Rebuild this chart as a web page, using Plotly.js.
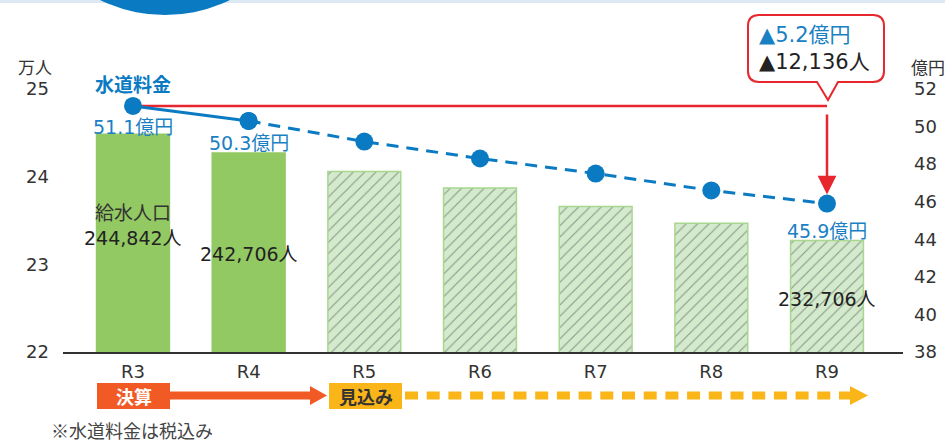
<!DOCTYPE html>
<html>
<head>
<meta charset="utf-8">
<script src="https://cdn.plot.ly/plotly-3.0.1.min.js"></script>
<style>html,body{margin:0;padding:0;background:#fff;}#chart{width:945px;height:442px;}</style>
</head>
<body>
<div id="chart"></div>
<script>
// ---- data ----
const categories = ['R3', 'R4', 'R5', 'R6', 'R7', 'R8', 'R9'];
const population = [244842, 242706, 240600, 238700, 236600, 234700, 232706]; // 給水人口 (人)
const revenue = [51.1, 50.3, 49.2, 48.3, 47.5, 46.6, 45.9];                  // 水道料金 (億円)
const actualCount = 2; // R3, R4 = 決算, rest = 見込み
const leftTicks = [22, 23, 24, 25];
const rightTicks = [38, 40, 42, 44, 46, 48, 50, 52];
const labelIdx = [0, 1, 6];

// ---- layout helpers ----
const L = 63, R = 903, T = 89, B = 352;
const px = x => (x - L) / (R - L);
const py = y => (B - y) / (B - T);
const FONT = 'DejaVu Sans, "Noto Sans CJK JP", sans-serif';
const CJK = '"Noto Sans CJK JP", DejaVu Sans, sans-serif';
const BLUE = '#0a7bc2', RED = '#e8262d', TXT = '#333333';

const popMan = population.map(v => v / 10000);
const isActual = categories.map((c, i) => i < actualCount);

const bars = {
  type: 'bar', x: categories, y: popMan, yaxis: 'y', xaxis: 'x',
  marker: {
    color: isActual.map(a => a ? '#93c963' : '#d3eacc'),
    line: {color: isActual.map(a => a ? '#93c963' : '#a8d88f'), width: 1.5},
    pattern: {shape: isActual.map(a => a ? '' : '/'), fillmode: 'overlay', fgcolor: '#b3dca0', size: 8, solidity: 0.14}
  },
  hoverinfo: 'skip', showlegend: false
};
const lineSolid = {
  type: 'scatter', mode: 'lines+markers', x: categories.slice(0, actualCount), y: revenue.slice(0, actualCount),
  yaxis: 'y2', line: {color: BLUE, width: 3}, marker: {color: BLUE, size: 18}, showlegend: false, hoverinfo: 'skip'
};
const lineDash = {
  type: 'scatter', mode: 'lines+markers', x: categories.slice(actualCount - 1), y: revenue.slice(actualCount - 1),
  yaxis: 'y2', line: {color: BLUE, width: 3, dash: '12px,8px'}, marker: {color: BLUE, size: 18}, showlegend: false, hoverinfo: 'skip'
};

function P(x, y) { return px(x).toFixed(5) + ',' + py(y).toFixed(5); }
function calloutPath(x0, y0, x1, y1, r, pl, tip, pr, tipY) {
  return 'M' + P(x0 + r, y0) + ' L' + P(x1 - r, y0) + ' Q' + P(x1, y0) + ' ' + P(x1, y0 + r) +
    ' L' + P(x1, y1 - r) + ' Q' + P(x1, y1) + ' ' + P(x1 - r, y1) +
    ' L' + P(pr, y1) + ' L' + P(tip, tipY) + ' L' + P(pl, y1) +
    ' L' + P(x0 + r, y1) + ' Q' + P(x0, y1) + ' ' + P(x0, y1 - r) +
    ' L' + P(x0, y0 + r) + ' Q' + P(x0, y0) + ' ' + P(x0 + r, y0) + ' Z';
}
function rectShape(x0, y0, x1, y1, color) {
  return {type: 'rect', xref: 'paper', yref: 'paper', x0: px(x0), x1: px(x1), y0: py(y1), y1: py(y0),
    fillcolor: color, line: {width: 0}, layer: 'above'};
}
function triShape(x0, y0, x1, ym, y1, color) {
  return {type: 'path', xref: 'paper', yref: 'paper', path: 'M' + P(x0, y0) + ' L' + P(x1, ym) + ' L' + P(x0, y1) + ' Z',
    fillcolor: color, line: {width: 0}, layer: 'above'};
}

const shapes = [
  rectShape(0, 0, 945, 3, '#dce8f4'),
  {type: 'circle', xref: 'paper', yref: 'paper', x0: px(17), x1: px(313), y0: py(15), y1: py(-281),
    fillcolor: BLUE, line: {width: 0}, layer: 'above'},
  {type: 'line', xref: 'x', yref: 'y2', x0: 0, x1: categories.length - 1, y0: revenue[0], y1: revenue[0],
    line: {color: RED, width: 2.5}, layer: 'below'},
  {type: 'path', xref: 'paper', yref: 'paper', path: calloutPath(748, 15, 884, 82, 11, 817, 828, 838, 100),
    fillcolor: '#ffffff', line: {color: RED, width: 2}, layer: 'above'},
  rectShape(97, 383, 170, 409, '#f15a24'),
  rectShape(170, 391.5, 312, 399.5, '#f15a24'),
  triShape(310, 386, 327, 395.5, 405, '#f15a24'),
  rectShape(329, 383, 402, 409, '#fab518'),
  {type: 'line', xref: 'paper', yref: 'paper', x0: px(405), x1: px(850), y0: py(395.5), y1: py(395.5),
    line: {color: '#fab518', width: 8, dash: '13px,8.7px'}, layer: 'above'},
  triShape(850, 386, 868, 395.5, 405, '#fab518')
];

function txt(x, y, text, size, color, opts) {
  return Object.assign({xref: 'paper', yref: 'paper', x: px(x), y: py(y), text: text, showarrow: false,
    xanchor: 'center', yanchor: 'middle', font: {family: FONT, size: size, color: color}}, opts || {});
}

const fmt = n => n.toLocaleString('en-US');
const annotations = [
  txt(35, 66, '万人', 17, TXT, {font: {family: CJK, size: 17, color: TXT}}),
  txt(928, 66, '億円', 17, TXT, {font: {family: CJK, size: 17, color: TXT}}),
  {xref: 'x', yref: 'paper', x: categories[0], y: py(84), text: '<b>水道料金</b>', showarrow: false,
    xanchor: 'center', yanchor: 'middle', font: {family: CJK, size: 19, color: BLUE}},
  {xref: 'x', yref: 'paper', x: categories[0], y: py(211), text: '給水人口', showarrow: false,
    xanchor: 'center', yanchor: 'middle', font: {family: CJK, size: 19, color: TXT}},
  // red arrow down to R9
  {xref: 'x', yref: 'y2', x: categories.length - 1, y: revenue[categories.length - 1],
    axref: 'x', ayref: 'y2', ax: categories.length - 1, ay: revenue[0], text: ' ', showarrow: true,
    arrowhead: 2, arrowsize: 1.5, arrowwidth: 2.5, arrowcolor: RED, standoff: 9},
  txt(757, 35, '▲' + (revenue[0] - revenue[revenue.length - 1]).toFixed(1) + '億円', 21, '#1a80c4', {xanchor: 'left'}),
  txt(757, 62, '▲' + fmt(population[0] - population[population.length - 1]) + '人', 21, '#222222', {xanchor: 'left'}),
  txt(133.5, 396, '<b>決算</b>', 18, '#ffffff', {font: {family: CJK, size: 18, color: '#ffffff'}}),
  txt(365.5, 396, '<b>見込み</b>', 18, TXT, {font: {family: CJK, size: 18, color: TXT}}),
  txt(49, 430, '※水道料金は税込み', 18, '#444444', {xanchor: 'left', font: {family: CJK, size: 18, color: '#444444'}})
];
const revLabelY = {0: 126.5, 1: 143, 6: 231};
const popLabelY = {0: 238, 1: 254, 6: 299};
labelIdx.forEach(i => {
  annotations.push({xref: 'x', yref: 'paper', x: categories[i], y: py(revLabelY[i]), text: revenue[i].toFixed(1) + '億円',
    showarrow: false, xanchor: 'center', yanchor: 'middle', font: {family: FONT, size: 19, color: '#1a80c4'}});
  annotations.push({xref: 'x', yref: 'paper', x: categories[i], y: py(popLabelY[i]), text: fmt(population[i]) + '人',
    showarrow: false, xanchor: 'center', yanchor: 'middle', font: {family: FONT, size: 19, color: '#222222'}});
});

const layout = {
  width: 945, height: 442,
  margin: {l: L, r: 945 - R, t: T, b: 442 - B, pad: 0},
  paper_bgcolor: '#ffffff', plot_bgcolor: '#ffffff',
  font: {family: FONT, color: TXT},
  bargap: 0.37,
  showlegend: false,
  xaxis: {type: 'category', range: [-0.605, 6.657], showline: true, linecolor: '#333333', linewidth: 2,
    ticks: '', showgrid: false, zeroline: false, tickfont: {family: FONT, size: 18, color: TXT}, ticklabelstandoff: 2,
    fixedrange: true},
  yaxis: {range: [22, 25], tickvals: leftTicks, showgrid: false, zeroline: false, showline: false, ticks: '',
    tickfont: {family: FONT, size: 18, color: TXT}, ticklabelstandoff: 13, fixedrange: true},
  yaxis2: {range: [38, 52], tickvals: rightTicks, overlaying: 'y', side: 'right', showgrid: false, zeroline: false,
    showline: false, ticks: '', tickfont: {family: FONT, size: 18, color: TXT}, ticklabelstandoff: 10, fixedrange: true},
  shapes: shapes,
  annotations: annotations
};

Plotly.newPlot('chart', [bars, lineSolid, lineDash], layout, {displayModeBar: false, staticPlot: true});
</script>
</body>
</html>
